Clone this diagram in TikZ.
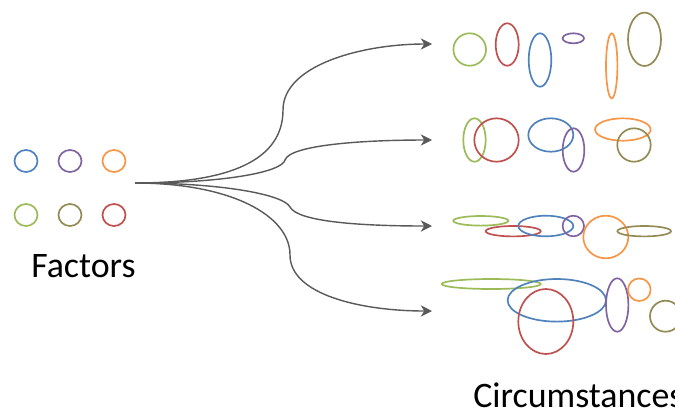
\documentclass[tikz,border=0pt]{standalone}
\usepackage{fontspec}
\setmainfont{Carlito}
\usetikzlibrary{arrows.meta}
\definecolor{cblue}{HTML}{4F81BD}
\definecolor{cred}{HTML}{C0504D}
\definecolor{cgreen}{HTML}{9BBB59}
\definecolor{cpurple}{HTML}{8064A2}
\definecolor{corange}{HTML}{F79646}
\definecolor{colive}{HTML}{948A54}
\definecolor{link}{HTML}{595959}

\begin{document}
\begin{tikzpicture}[
    x=0.025cm, y=-0.025cm,
    ring/.style={line width=1.2pt},
    branch/.style={draw=link, line width=1pt, -{Stealth[length=8pt, width=8pt, inset=2.5pt]}},
    label/.style={font=\fontsize{25.5}{30}\selectfont, text=black, inner sep=0pt}
]
\useasboundingbox (0,0) rectangle (675,416);

% Factors: two rows of small circles.
\foreach \x/\y/\c in {26/161/cblue,70/161/cpurple,114/161/corange,
                      26/215/cgreen,70/215/colive,114/215/cred} {
    \draw[ring, \c] (\x,\y) ellipse [x radius=11.5, y radius=11];
}
\node[label, anchor=base west] (factors) at (31,277) {Factors};

% Circumstances: four mixes of stretched ellipses.
\foreach \x/\y/\rx/\ry/\c in {
    469.7/49.5/16.3/16.2/cgreen, 507.2/44.5/11.5/21.2/cred,
    540/60/11.3/26.7/cblue, 573.3/38.3/10.7/5/cpurple,
    611.7/65.8/5.7/32.5/corange, 644.5/39.3/16.5/26.7/colive} {
    \draw[ring, \c] (\x,\y) ellipse [x radius=\rx, y radius=\ry];
}
\foreach \x/\y/\rx/\ry/\c in {
    474.5/140/11.2/21.7/cgreen, 496.5/140/22.2/21.7/cred,
    550.8/135/22.5/16.7/cblue, 573.5/150/10.8/21.7/cpurple,
    622.8/129.5/27.8/11.2/corange, 634/145/16.7/16.7/colive} {
    \draw[ring, \c] (\x,\y) ellipse [x radius=\rx, y radius=\ry];
}
\foreach \x/\y/\rx/\ry/\c in {
    480.8/220.8/27.5/4.8/cgreen, 513.2/231.2/27.5/5.2/cred,
    545.8/226/27.5/10.3/cblue, 573.3/226/10.7/10.3/cpurple,
    605.8/237/22.5/21.3/corange, 644.2/231.2/26.8/5.2/colive} {
    \draw[ring, \c] (\x,\y) ellipse [x radius=\rx, y radius=\ry];
}
\foreach \x/\y/\rx/\ry/\c in {
    491.2/284/49.5/5/cgreen, 556.8/300.3/49.2/21.3/cblue,
    545.8/321.5/27.5/32.5/cred, 617.2/305/11.2/26.7/cpurple,
    639.3/289.7/11.3/11.3/corange, 665.5/316.2/15.5/15.5/colive} {
    \draw[ring, \c] (\x,\y) ellipse [x radius=\rx, y radius=\ry];
}
\node[label, anchor=base west] (circ) at (473,407) {Circumstances};

% Branching connectors.
\coordinate (src) at (135,183);
\coordinate (k1) at (283,110);
\coordinate (k2) at (285,160);
\coordinate (k3) at (290,207);
\coordinate (k4) at (290,255);
\coordinate (c1) at (432,44);
\coordinate (c2) at (432,140);
\coordinate (c3) at (432,226);
\coordinate (c4) at (432,311);
\draw[branch] (src) .. controls +(95,0) and +(0,50) .. (k1)
    .. controls +(0,-45) and +(-70,0) .. (c1);
\draw[branch] (src) .. controls +(90,0) and +(-3,12) .. (k2)
    .. controls +(5,-15) and +(-70,0) .. (c2);
\draw[branch] (src) .. controls +(90,0) and +(-6,-12) .. (k3)
    .. controls +(8,15) and +(-70,0) .. (c3);
\draw[branch] (src) .. controls +(95,0) and +(0,-40) .. (k4)
    .. controls +(0,40) and +(-70,0) .. (c4);
\end{tikzpicture}
\end{document}
